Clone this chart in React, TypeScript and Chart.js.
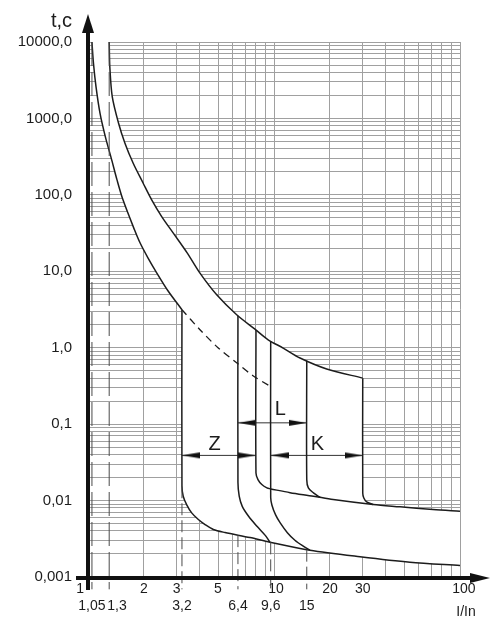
import React, { useEffect, useRef } from 'react';
import { Chart, registerables } from 'chart.js';

Chart.register(...registerables);

// ---------- data ----------
// thermal release, lower limit (starts at 1,05 In)
const thermalMinX = [1.05, 1.07, 1.104, 1.16, 1.239, 1.341, 1.432, 1.542, 1.778, 1.904, 2.1, 2.34, 2.69, 3.2];
const thermalMinY = [10000, 5270, 2600, 1170, 578, 287, 157, 86, 34.9, 23.6, 15.0, 9.56, 5.56, 3.14];
// dashed continuation of the lower thermal curve
const thermalExtX = [3.2, 4.0, 5.0, 6.32, 7.71, 9.6];
const thermalExtY = [3.14, 1.72, 1.0, 0.63, 0.43, 0.31];
// thermal release, upper limit (starts at 1,3 In)
const thermalMaxX = [1.3, 1.31, 1.35, 1.46, 1.58, 1.75, 1.98, 2.2, 2.49, 2.875, 3.42, 4.0, 4.92, 6.3, 7.9, 9.3, 11.2, 13.8, 19.2, 30];
const thermalMaxY = [10000, 4750, 1930, 865, 474, 259, 142, 86, 52, 31.6, 17.3, 9.47, 4.93, 2.7, 1.75, 1.27, 0.99, 0.733, 0.527, 0.4];
// minimum trip time (Z lower limit at 3,2 turning into the lower curve)
const minTripX = [3.2, 3.2, 3.25, 3.39, 3.61, 3.92, 4.26, 4.72, 5.45, 7.43, 9.51, 15.6, 29, 53.8, 100];
const minTripY = [3.14, 0.0154, 0.0114, 0.00887, 0.0069, 0.00565, 0.00485, 0.00418, 0.00382, 0.00328, 0.00285, 0.00224, 0.00184, 0.00156, 0.00141];
// maximum trip time curve
const maxTripX = [9.6, 12.2, 16.3, 20.8, 34.1, 47.6, 71.6, 100];
const maxTripY = [0.0142, 0.0127, 0.0114, 0.0103, 0.00887, 0.00828, 0.00762, 0.00724];
// Z upper limit (8 In)
const zUpperX = [8, 8, 8.2, 8.6, 9.16, 9.6];
const zUpperY = [1.71, 0.023, 0.0188, 0.0162, 0.01466, 0.0142];
// L lower limit (6,4 In)
const lLowerX = [6.4, 6.4, 6.5, 6.75, 7.3, 8.1, 9.0, 9.51];
const lLowerY = [2.62, 0.0172, 0.0114, 0.0084, 0.00624, 0.00461, 0.00348, 0.00285];
// L upper limit (15 In)
const lUpperX = [15, 15, 15.3, 16.3, 17.7];
const lUpperY = [0.673, 0.0188, 0.01466, 0.01262, 0.011];
// K lower limit (9,6 In)
const kLowerX = [9.6, 9.6, 9.75, 10.2, 10.8, 11.8, 13.0, 14.3, 15.6];
const kLowerY = [1.22, 0.011, 0.0087, 0.0065, 0.0051, 0.0038, 0.003, 0.00255, 0.00224];
// K upper limit (30 In)
const kUpperX = [30, 30, 30.4, 31.5, 34.1];
const kUpperY = [0.4, 0.0126, 0.0108, 0.0096, 0.00887];

// dashed marker lines
const markX = [1.05, 1.3, 3.2, 6.4, 9.6, 15];
const markTopY = [10000, 10000, 0.0154, 0.00353, 0.00284, 0.00228];
const markBottomY = 0.00069;

// zone ranges
const zoneNames = ['Z', 'L', 'K'];
const zoneFrom = [3.2, 6.4, 9.6];
const zoneTo = [8, 15, 30];
const zoneArrowY = [0.039, 0.104, 0.039];
const zoneLabelX = [4.8, 10.8, 17.1];
const zoneLabelY = [0.055, 0.155, 0.055];

// ticks
const xMajorTicks = [1, 2, 3, 5, 10, 20, 30, 100];
const xMajorLabels = ['1', '2', '3', '5', '10', '20', '30', '100'];
const xMarkLabels = ['1,05', '1,3', '3,2', '6,4', '9,6', '15'];
const xGridOnly = [4, 6, 7, 8, 9, 40, 50, 60, 70, 80, 90];
const yDecades = [0.001, 0.01, 0.1, 1, 10, 100, 1000, 10000];
const yDecadeLabels = ['0,001', '0,01', '0,1', '1,0', '10,0', '100,0', '1000,0', '10000,0'];
const gridMultiples = [1, 2, 3, 4, 5, 6, 7, 8, 9];

// ---------- styles ----------
const W = 504;
const H = 617;
const FONT = '"Liberation Sans", Arial, Helvetica, sans-serif';
const INK = '#1c1c1c';
const GRID = '#a0a0a0';
const DASH = '#4a4a4a';
const labelPadAfter: Record<string, string> = { '1': '    ' };
const labelPadBefore: Record<string, string> = { '1,3': '    ', '100': '  ', '10': ' ' };

const pts = (xs: number[], ys: number[]) => xs.map((x, i) => ({ x, y: ys[i] }));
const same = (a: number, b: number) => Math.abs(Math.log10(a) - Math.log10(b)) < 1e-9;
const padLabel = (t: string) => (labelPadBefore[t] || '') + t + (labelPadAfter[t] || '');

function makeArrowHead(): HTMLCanvasElement {
  const len = 18;
  const half = 3;
  const c = document.createElement('canvas');
  c.width = len * 2;
  c.height = half * 2 + 2;
  const g = c.getContext('2d')!;
  g.fillStyle = '#111';
  g.beginPath();
  g.moveTo(0, 1);
  g.lineTo(len, half + 1);
  g.lineTo(0, half * 2 + 1);
  g.closePath();
  g.fill();
  return c;
}

const decorations = {
  id: 'decorations',
  afterDraw(chart: any) {
    const { ctx, chartArea: a, scales } = chart;
    const xs = scales.x;
    const ys = scales.y;
    ctx.save();
    // zone letters
    ctx.fillStyle = INK;
    ctx.font = `20px ${FONT}`;
    ctx.textAlign = 'center';
    ctx.textBaseline = 'middle';
    zoneNames.forEach((n, i) => {
      ctx.fillText(n, xs.getPixelForValue(zoneLabelX[i]), ys.getPixelForValue(zoneLabelY[i]));
    });
    // axes
    ctx.strokeStyle = '#111';
    ctx.fillStyle = '#111';
    ctx.lineWidth = 4;
    ctx.beginPath();
    ctx.moveTo(a.left, a.bottom + 13);
    ctx.lineTo(a.left, a.top - 12);
    ctx.stroke();
    ctx.beginPath();
    ctx.moveTo(a.left - 12, a.bottom + 1);
    ctx.lineTo(a.right + 12, a.bottom + 1);
    ctx.stroke();
    ctx.beginPath();
    ctx.moveTo(a.left, a.top - 28);
    ctx.lineTo(a.left - 6, a.top - 9);
    ctx.lineTo(a.left + 6, a.top - 9);
    ctx.closePath();
    ctx.fill();
    ctx.beginPath();
    ctx.moveTo(a.right + 30, a.bottom + 1);
    ctx.lineTo(a.right + 10, a.bottom - 4);
    ctx.lineTo(a.right + 10, a.bottom + 6);
    ctx.closePath();
    ctx.fill();
    // axis titles
    ctx.fillStyle = INK;
    ctx.font = `20px ${FONT}`;
    ctx.textAlign = 'right';
    ctx.fillText('t,c', a.left - 16, a.top - 21);
    ctx.font = `14px ${FONT}`;
    ctx.textAlign = 'center';
    ctx.fillText('I/In', a.right + 6, a.bottom + 35);
    ctx.restore();
  },
};

export default function App() {
  const ref = useRef<HTMLCanvasElement>(null);

  useEffect(() => {
    const head = makeArrowHead();

    const bandUpper = [
      { x: thermalMinX[0], y: thermalMinY[0] },
      ...pts(thermalMaxX, thermalMaxY),
      ...pts(kUpperX, kUpperY).slice(1),
      ...pts(maxTripX, maxTripY).filter((p) => p.x > kUpperX[kUpperX.length - 1]),
    ];
    const bandLower = [...pts(thermalMinX, thermalMinY), ...pts(minTripX, minTripY).slice(1)];

    const curve = (label: string, data: any[], extra: any = {}) => ({
      label,
      data,
      borderColor: INK,
      borderWidth: 1.5,
      pointRadius: 0,
      fill: false,
      tension: 0.3,
      ...extra,
    });

    const xAll = [...xMajorTicks, ...markX, ...xGridOnly].sort((a, b) => a - b);
    const yAll: number[] = [];
    yDecades.slice(0, -1).forEach((d) => gridMultiples.forEach((m) => yAll.push(d * m)));
    yAll.push(yDecades[yDecades.length - 1]);

    const datasets: any[] = [
      {
        label: 'band',
        data: bandUpper,
        borderWidth: 0,
        borderColor: 'transparent',
        backgroundColor: '#ffffff',
        pointRadius: 0,
        tension: 0,
        fill: '+1',
        order: 10,
      },
      {
        label: 'band-lower',
        data: bandLower,
        borderWidth: 0,
        borderColor: 'transparent',
        backgroundColor: '#ffffff',
        pointRadius: 0,
        tension: 0,
        fill: false,
        order: 10,
      },
      ...markX.map((mx, i) => ({
        label: 'mark ' + xMarkLabels[i],
        data: [{ x: mx, y: markTopY[i] }, { x: mx, y: markBottomY }],
        borderColor: DASH,
        borderWidth: 1,
        borderDash: i < 2 ? [24, 6] : [12, 5],
        pointRadius: 0,
        fill: false,
        tension: 0,
        clip: false,
      })),
      curve('thermal min', pts(thermalMinX, thermalMinY)),
      curve('thermal ext', pts(thermalExtX, thermalExtY), { borderDash: [7, 5], borderWidth: 1.3 }),
      curve('thermal max', pts(thermalMaxX, thermalMaxY)),
      curve('min trip', pts(minTripX, minTripY)),
      curve('max trip', pts(maxTripX, maxTripY)),
      curve('Z upper', pts(zUpperX, zUpperY)),
      curve('L lower', pts(lLowerX, lLowerY)),
      curve('L upper', pts(lUpperX, lUpperY)),
      curve('K lower', pts(kLowerX, kLowerY)),
      curve('K upper', pts(kUpperX, kUpperY)),
      ...zoneNames.map((n, i) => ({
        label: n + ' range',
        data: [
          { x: zoneFrom[i], y: zoneArrowY[i] },
          { x: zoneTo[i], y: zoneArrowY[i] },
        ],
        borderColor: '#333',
        borderWidth: 1,
        pointStyle: head,
        pointRotation: [180, 0],
        pointRadius: 4,
        pointBorderWidth: 0,
        pointBackgroundColor: 'transparent',
        fill: false,
        tension: 0,
      })),
    ];

    const chart = new Chart(ref.current!, {
      type: 'line',
      data: { datasets },
      plugins: [decorations],
      options: {
        responsive: false,
        animation: false,
        events: [],
        layout: { padding: { left: 0, top: 42, right: 44, bottom: 0 } },
        plugins: {
          legend: { display: false },
          tooltip: { enabled: false },
          filler: { drawTime: 'beforeDatasetsDraw', propagate: false },
        },
        scales: {
          x: {
            type: 'logarithmic',
            min: 1,
            max: 100,
            afterFit: (s: any) => {
              s.height = 40;
            },
            afterBuildTicks: (s: any) => {
              s.ticks = xAll.map((v) => ({ value: v }));
            },
            border: { display: false },
            grid: {
              color: (c: any) =>
                c.tick && markX.some((m) => same(m, c.tick.value)) ? 'rgba(0,0,0,0)' : GRID,
              lineWidth: 1,
              drawTicks: false,
            },
            ticks: {
              autoSkip: false,
              maxRotation: 0,
              minRotation: 0,
              padding: 4,
              color: INK,
              font: { family: FONT, size: 14 },
              callback: (v: any) => {
                const value = Number(v);
                const mi = xMajorTicks.findIndex((m) => same(m, value));
                if (mi >= 0) return [padLabel(xMajorLabels[mi]), ''];
                const ki = markX.findIndex((m) => same(m, value));
                if (ki >= 0) return ['', padLabel(xMarkLabels[ki])];
                return '';
              },
            },
          },
          y: {
            type: 'logarithmic',
            min: 0.001,
            max: 10000,
            afterFit: (s: any) => {
              s.width = 88;
            },
            afterBuildTicks: (s: any) => {
              s.ticks = yAll.map((v) => ({ value: v }));
            },
            border: { display: false },
            grid: { color: GRID, lineWidth: 1, drawTicks: false },
            ticks: {
              autoSkip: false,
              padding: 16,
              color: INK,
              font: { family: FONT, size: 15 },
              callback: (v: any) => {
                const i = yDecades.findIndex((d) => same(d, Number(v)));
                return i >= 0 ? yDecadeLabels[i] : '';
              },
            },
          },
        },
      } as any,
    });
    return () => chart.destroy();
  }, []);

  return (
    <div style={{ position: 'absolute', left: 0, top: 0, width: W, height: H, background: '#fff' }}>
      <canvas ref={ref} width={W} height={H} style={{ display: 'block', width: W, height: H }} />
    </div>
  );
}
